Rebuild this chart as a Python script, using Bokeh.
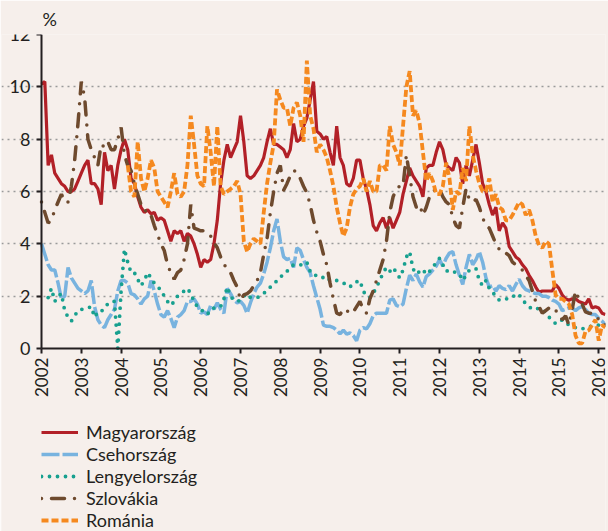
import math
from bokeh.plotting import figure
from bokeh.models import Legend, LegendItem, FixedTicker
from bokeh.embed import file_html
from bokeh.resources import INLINE

nan = float("nan")

# month index 0 = Jan 2002 ... 170 = Mar 2016
n_months = 171
months = [2002 + i / 12 for i in range(n_months)]
year_ticks = list(range(2002, 2017))
y_ticks = [0, 2, 4, 6, 8, 10, 12]

magyarorszag = [
    10.1, 10.2, 7.0, 7.4, 6.7, 6.5, 6.3, 6.2, 6.0, 6.0, 6.1, 6.4,
    6.7, 7.0, 7.2, 6.3, 6.3, 6.1, 5.5, 7.5, 6.8, 7.0, 6.1, 7.0,
    7.6, 8.0, 7.6, 6.5, 6.3, 5.8, 5.4, 5.2, 5.3, 5.15, 5.2, 4.9,
    5.0, 4.9, 4.5, 4.1, 4.5, 4.4, 4.5, 4.1, 4.4, 4.3, 4.0, 3.6,
    3.1, 3.4, 3.3, 3.4, 4.0, 4.9, 6.3, 7.2, 7.8, 7.3, 7.6, 7.9,
    8.9, 7.9, 6.6, 6.5, 6.6, 6.8, 7.0, 7.3, 7.9, 8.4, 7.8, 7.8,
    7.7, 7.6, 7.3, 7.6, 8.6, 7.9, 8.0, 8.5, 8.8, 9.5, 10.2, 8.3,
    8.2, 8.0, 8.1, 7.5, 7.0, 8.5, 7.3, 7.0, 6.3, 6.2, 6.5, 7.2,
    7.2, 6.5, 6.1, 5.5, 4.7, 4.5, 4.8, 5.0, 4.6, 5.0, 4.6, 4.9,
    5.2, 5.9, 6.4, 6.9, 6.6, 6.4, 6.2, 5.8, 6.9, 7.0, 7.0, 7.5,
    7.9, 7.6, 7.0, 6.9, 6.8, 7.3, 7.1, 6.3, 7.0, 6.6, 7.2, 7.8,
    7.1, 6.3, 6.0, 5.5, 5.1, 5.4, 4.5, 4.8, 4.6, 3.9, 3.7, 3.5,
    3.4, 3.2, 3.05, 2.8, 2.6, 2.35, 2.15, 2.2, 2.2, 2.2, 2.2, 2.45,
    2.3, 2.05, 1.9, 1.85, 1.9, 1.9, 1.8, 1.75, 1.7, 1.9, 1.55, 1.6,
    1.55, 1.35, 1.3,
]

csehorszag = [
    4.0, 3.6, 3.2, 3.0, 3.0, 2.5, 1.9, 2.0, 3.1, 2.7, 2.5, 2.3,
    2.2, 2.1, 2.2, 2.6, 1.6, 1.1, 0.9, 0.8, 1.1, 1.3, 1.5, 2.2,
    2.6, 2.6, 2.5, 2.1, 2.05, 1.9, 1.7, 1.9, 2.0, 2.6, 2.2, 1.7,
    1.3, 1.2, 1.45, 1.15, 0.8, 1.2, 1.3, 1.45, 1.8, 1.8, 1.9, 1.7,
    1.35, 1.4, 1.3, 1.65, 1.5, 1.75, 1.5, 1.35, 2.3, 2.1, 1.85, 1.75,
    1.8, 1.65, 1.35, 1.75, 2.1, 2.35, 2.5, 2.85, 3.3, 3.85, 4.5, 4.95,
    4.1, 3.5, 3.4, 3.45, 3.1, 3.85, 3.75, 3.4, 3.1, 2.9, 2.4, 1.95,
    1.5, 0.9, 0.85, 0.85, 0.8, 0.7, 0.56, 0.7, 0.55, 0.6, 0.5, 0.3,
    0.7, 0.8, 0.75, 0.95, 1.25, 1.35, 1.35, 1.35, 1.35, 1.85, 1.9, 1.65,
    1.6, 1.7, 2.3, 2.8, 2.6, 2.85, 2.55, 2.35, 2.75, 2.85, 3.0, 3.15,
    3.4, 3.15, 3.45, 3.65, 3.7, 3.2, 2.8, 2.45, 3.1, 3.6, 3.2, 3.4,
    3.7, 3.3, 2.7, 2.35, 2.4, 2.2, 2.4, 2.3, 2.25, 2.4, 2.2, 2.45,
    2.65, 2.4, 2.25, 2.2, 2.15, 2.1, 2.1, 2.0, 2.0, 1.95, 1.85, 1.8,
    1.7, 1.45, 1.5, 1.55, 1.55, 1.45, 1.55, 1.6, 1.5, 1.35, 1.3, 1.3,
    1.15, 1.05, 0.9,
]

lengyelorszag = [
    nan, nan, 1.95, 2.3, 1.8, 2.0, 2.1, 1.45, 1.2, 1.05, 1.25, 1.45,
    1.5, 1.5, 1.55, 1.6, 1.2, 1.4, 1.4, 1.6, 1.7, 1.8, 1.8, 0.0,
    2.2, 3.8, 3.3, 2.9, 2.9, 2.65, 2.4, 2.6, 2.9, 2.7, 2.5, 2.35,
    2.25, 2.0, 1.8, 1.65, 1.8, 2.0, 2.1, 2.2, 2.3, 2.1, 1.8, 1.6,
    1.5, 1.4, 1.3, 1.5, 1.55, 1.55, 1.6, 1.9, 2.35, 2.0, 1.85, 1.8,
    1.85, 2.0, 2.1, 1.95, 1.95, 1.95, 2.0, 2.1, 2.25, 2.35, 2.45, 2.6,
    2.75, 2.8, 2.95, 3.1, 3.2, 3.2, 3.2, 3.2, 3.3, 2.95, 2.8, 2.8,
    2.8, 2.7, 2.75, 2.6, 2.6, 2.6, 2.55, 2.5, 2.45, 2.35, 2.5, 2.55,
    2.6, 2.2, 2.0, 1.95, 2.1, 2.35, 2.6, 2.9, 3.1, 2.95, 3.1, 2.9,
    2.7, 3.0, 3.5, 3.7, 3.05, 2.85, 2.95, 2.85, 3.05, 2.95, 3.1, 3.3,
    3.45, 3.2, 2.95, 3.0, 2.95, 2.9, 2.85, 2.6, 2.8, 3.0, 3.0, 3.05,
    2.6, 2.4, 2.6, 2.3, 2.15, 2.0, 1.85, 1.9, 1.9, 1.9, 1.95, 2.1,
    2.05, 1.9, 1.7, 1.6, 1.5, 1.5, 1.55, 1.45, 1.4, 1.2, 1.1, 0.95,
    1.0, 1.1, 1.0, 0.9, 0.85, 0.8, 0.75, 0.75, 0.8, 0.85, 0.85, 0.85,
    0.9, 0.95, 0.9,
]

szlovakia = [
    5.6, 5.2, 4.8, 4.9, 5.3, 5.6, 5.9, 5.6, 5.6, 6.2, 7.2, 8.6,
    10.2, 9.6, 8.0, 7.6, 7.3, 7.0, 7.8, 7.7, 7.9, 7.6, 7.6, 8.0,
    8.45, 7.4, 7.0, 6.8, 6.3, 5.9, 5.5, 5.25, 5.3, 5.1, 4.7, 4.35,
    4.0, 3.75, 3.2, 2.9, 2.65, 2.9, 3.0, 3.4, 4.0, 5.5, 4.6, 4.55,
    4.5, 4.5, 4.35, 4.3, 4.05, 3.85, 3.5, 3.2, 3.1, 2.9, 2.6, 2.35,
    1.85, 2.05, 2.1, 2.2, 2.4, 2.6, 2.9, 3.6, 4.2, 5.2, 6.0, 6.7,
    7.0, 6.05, 6.3, 6.6, 6.8, 6.75, 6.5, 6.2, 5.95, 5.5, 4.9, 4.45,
    4.1, 3.6, 3.2, 2.5, 1.9, 1.35, 1.3, 1.5, 1.4, 1.5, 1.4, 1.6,
    1.8, 1.5, 1.35, 1.9, 2.2, 2.6, 3.0, 3.4, 4.1, 5.2, 5.8, 6.1,
    6.2, 6.2, 7.4, 6.6, 5.8, 5.4, 5.5, 5.1, 5.4, 5.8, 6.0, 6.1,
    6.1, 5.8, 5.6, 5.5, 5.0, 4.7, 4.6, 5.4, 6.1, 5.7, 5.6, 5.7,
    5.4, 5.0, 4.7, 4.6, 4.3, 4.0, 3.8, 3.8, 3.65, 3.55, 3.3, 3.2,
    3.1, 3.0, 2.8, 2.6, 2.2, 1.8, 1.6, 1.35, 1.45, 1.55, 1.6, 1.45,
    1.35, 1.1, 1.25, 0.9, 1.5, 2.2, 1.9, 1.7, 1.4, 1.35, 1.35, 1.3,
    1.1, 0.9, 0.9,
]

romania = [
    nan, nan, nan, nan, nan, nan, nan, nan, nan, nan, nan, nan,
    nan, nan, nan, nan, nan, nan, nan, nan, nan, nan, nan, nan,
    nan, nan, 7.0, 6.0, 5.8, 7.9, 6.5, 6.0, 6.5, 7.2, 6.9, 6.0,
    5.8, 5.6, 5.4, 6.0, 6.7, 5.9, 5.8, 6.0, 7.0, 8.9, 7.8, 6.6,
    6.3, 6.2, 8.5, 7.5, 6.2, 8.5, 6.2, 5.9, 6.0, 6.1, 6.2, 6.4,
    5.9, 4.1, 3.7, 4.0, 4.2, 4.1, 4.0, 5.2, 6.3, 7.1, 7.8, 9.9,
    9.5, 9.2, 9.2, 8.5, 9.2, 9.4, 8.9, 7.9, 11.0, 8.9, 8.4, 7.5,
    7.8, 7.6, 7.3, 6.8, 6.2, 5.4, 4.8, 4.3, 4.6, 5.4, 5.9, 6.1,
    6.2, 6.5, 6.0, 6.4, 6.0, 6.0, 7.0, 7.0, 6.8, 8.5, 7.8, 7.5,
    7.0, 8.5, 10.0, 10.6, 8.9, 9.1, 8.6, 7.5, 6.4, 6.7, 6.4, 5.9,
    5.9, 6.2, 7.1, 6.5, 5.3, 6.0, 5.9, 6.9, 6.4, 8.5, 7.4, 6.8,
    6.3, 6.0, 6.0, 6.5, 5.6, 5.9, 5.4, 5.3, 4.9, 4.9, 5.1, 5.35,
    5.6, 5.5, 5.1, 5.3, 4.9, 4.3, 3.95, 3.85, 4.1, 4.0, 3.0, 2.05,
    1.9, 1.9, 1.8, 1.7, 1.3, 0.5, 0.2, 0.2, 0.65, 0.7, 0.9, 1.1,
    0.3, 0.9, 0.8,
]

series_names = ["Magyarország", "Csehország", "Lengyelország", "Szlovákia", "Románia"]
series_values = [magyarorszag, csehorszag, lengyelorszag, szlovakia, romania]

BG = "#f6efeb"
FONT = "Lato"
TXT = "#231f20"

styles = [
    dict(line_color="#b22027", line_width=3.2),
    dict(line_color="#78b3df", line_width=3.5, line_dash="18 3"),
    dict(line_color="#17a08f", line_width=3.8, line_dash="0 8", line_cap="round"),
    dict(line_color="#6e4a2e", line_width=3.5, line_dash="13 10 0 10",
         line_dash_offset=23, line_cap="round"),
    dict(line_color="#f5891f", line_width=3.8, line_dash="7 3"),
]

X_END = 2016.17

# One figure whose frame covers the whole page; both axes are pinned
# (x at y=0, y at x=2002), so all tick labels and the legend sit inside the frame.
p = figure(width=608, height=531, x_range=(2000.995, X_END), y_range=(-6.99, 12),
           output_backend="svg", toolbar_location=None,
           min_border_left=1, min_border_right=3, min_border_top=34,
           min_border_bottom=0)
p.background_fill_color = BG
p.border_fill_color = BG
p.outline_line_color = None

p.title.text = "%"
p.title.align = "left"
p.title.text_font = FONT
p.title.text_font_size = "18px"
p.title.text_font_style = "normal"
p.title.text_color = TXT
p.title.offset = 41
p.title.standoff = 10

renderers = []
for vals, st in zip(series_values, styles):
    renderers.append(p.line(months, vals, **st))

p.xaxis.ticker = FixedTicker(ticks=year_ticks)
p.xaxis.fixed_location = 0
p.xaxis.bounds = (2002, X_END)
p.yaxis.ticker = FixedTicker(ticks=y_ticks)
p.yaxis.fixed_location = 2002
p.yaxis.bounds = (0, 12)
p.xaxis.major_label_orientation = math.pi / 2
for ax in (p.xaxis, p.yaxis):
    ax.axis_line_color = TXT
    ax.axis_line_width = 2
    ax.major_tick_line_color = TXT
    ax.major_tick_line_width = 2
    ax.major_tick_out = 5
    ax.major_tick_in = 0
    ax.minor_tick_line_color = None
    ax.major_label_text_font = FONT
    ax.major_label_text_color = TXT
p.xaxis.major_label_text_font_size = "17px"
p.yaxis.major_label_text_font_size = "18px"
p.xaxis.major_label_standoff = 4
p.yaxis.major_label_standoff = 6

p.xgrid.visible = False
p.ygrid.ticker = FixedTicker(ticks=y_ticks[1:])
p.ygrid.bounds = (2002, X_END)
p.ygrid.grid_line_color = "#9a9a9a"
p.ygrid.grid_line_width = 1.5
p.ygrid.grid_line_dash = "2 4"

items = [LegendItem(label=name, renderers=[r]) for name, r in zip(series_names, renderers)]
legend = Legend(items=items, location=(40, 0), orientation="vertical")
legend.background_fill_alpha = 0
legend.border_line_color = None
legend.label_text_font = FONT
legend.label_text_font_size = "18px"
legend.label_text_color = TXT
legend.glyph_width = 37
legend.glyph_height = 22
legend.label_height = 22
legend.label_standoff = 8
legend.spacing = 0
legend.padding = 0
legend.margin = 0
p.add_layout(legend, "center")

html = file_html(p, INLINE)
html = html.replace("<body>", '<body style="margin:0;background-color:%s;">' % BG, 1)
open("out.html", "w").write(html)
